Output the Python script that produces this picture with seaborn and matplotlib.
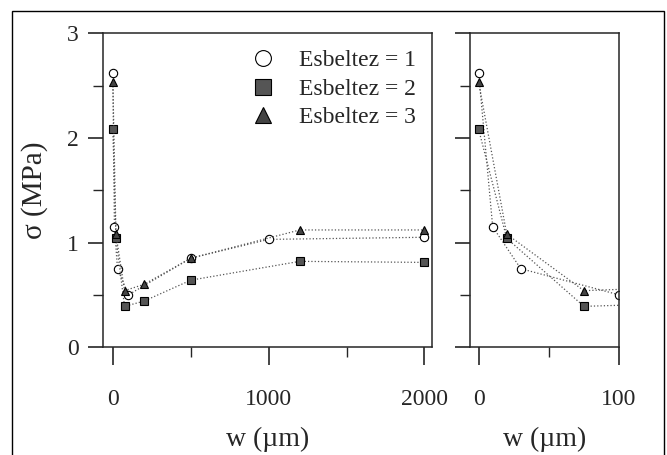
import numpy as np
import pandas as pd
import matplotlib
matplotlib.use("Agg")
import matplotlib.pyplot as plt
import seaborn as sns
from matplotlib.patches import Rectangle

# data
w_esb1   = [0, 10, 30, 100, 500, 1000, 2000]
sig_esb1 = [2.62, 1.15, 0.75, 0.50, 0.85, 1.03, 1.05]

w_esb2   = [0, 20, 75, 200, 500, 1200, 2000]
sig_esb2 = [2.08, 1.04, 0.39, 0.44, 0.64, 0.82, 0.81]

w_esb3   = [0, 20, 75, 200, 500, 1200, 2000]
sig_esb3 = [2.53, 1.08, 0.54, 0.60, 0.85, 1.12, 1.12]

labels = ["Esbeltez = 1", "Esbeltez = 2", "Esbeltez = 3"]

series = [
    (w_esb1, sig_esb1, labels[0], "o", "white"),
    (w_esb2, sig_esb2, labels[1], "s", "#555555"),
    (w_esb3, sig_esb3, labels[2], "^", "#444444"),
]

sns.set_style("ticks")
plt.rcParams["font.family"] = ["Liberation Serif", "DejaVu Serif"]

fig = plt.figure(figsize=(6.67, 4.55), dpi=100)
ax1 = fig.add_axes([0.154, 0.237, 0.494, 0.690])
ax2 = fig.add_axes([0.705, 0.237, 0.223, 0.690])

for ax in (ax1, ax2):
    for w, s, lab, mk, fc in series:
        sns.lineplot(x=w, y=s, ax=ax, color="#555555", linestyle=":", linewidth=0.9,
                     marker=mk, markersize=6, markerfacecolor=fc,
                     markeredgecolor="black", markeredgewidth=0.8,
                     label=lab, sort=True)
    ax.set_ylim(0, 3)
    ax.set_yticks([0, 1, 2, 3])
    ax.set_yticks([0.5, 1.5, 2.5], minor=True)
    ax.tick_params(axis="both", which="major", direction="out", length=11, width=1.2,
                   labelsize=17, pad=6)
    ax.tick_params(axis="both", which="minor", direction="out", length=7, width=1.0)
    ax.tick_params(axis="x", which="major", pad=17, length=13)
    for sp in ax.spines.values():
        sp.set_linewidth(1.1)
    ax.set_xlabel("w (µm)", fontsize=20, labelpad=12)

# left panel
ax1.set_xlim(-65, 2050)
ax1.set_xticks([0, 1000, 2000])
ax1.set_xticks([500, 1500], minor=True)
ax1.set_ylabel("σ (MPa)", fontsize=21, labelpad=14)
leg = ax1.legend(loc="upper right", frameon=False, fontsize=17, markerscale=1.9,
                 handlelength=1.2, handletextpad=0.9, labelspacing=0.3,
                 borderaxespad=0.3)
for line in leg.get_lines():
    line.set_linestyle("")

# right panel
ax2.set_xlim(-6, 100)
ax2.set_xticks([0, 100])
ax2.set_xticks([50], minor=True)
ax2.set_yticklabels([])
ax2.set_ylabel("")
ax2.get_legend().remove()

fig.patches.append(Rectangle((0.018, -0.01), 0.978, 0.985, transform=fig.transFigure,
                             fill=False, edgecolor="black", linewidth=1.0))

fig.savefig("out.png", dpi=100)
